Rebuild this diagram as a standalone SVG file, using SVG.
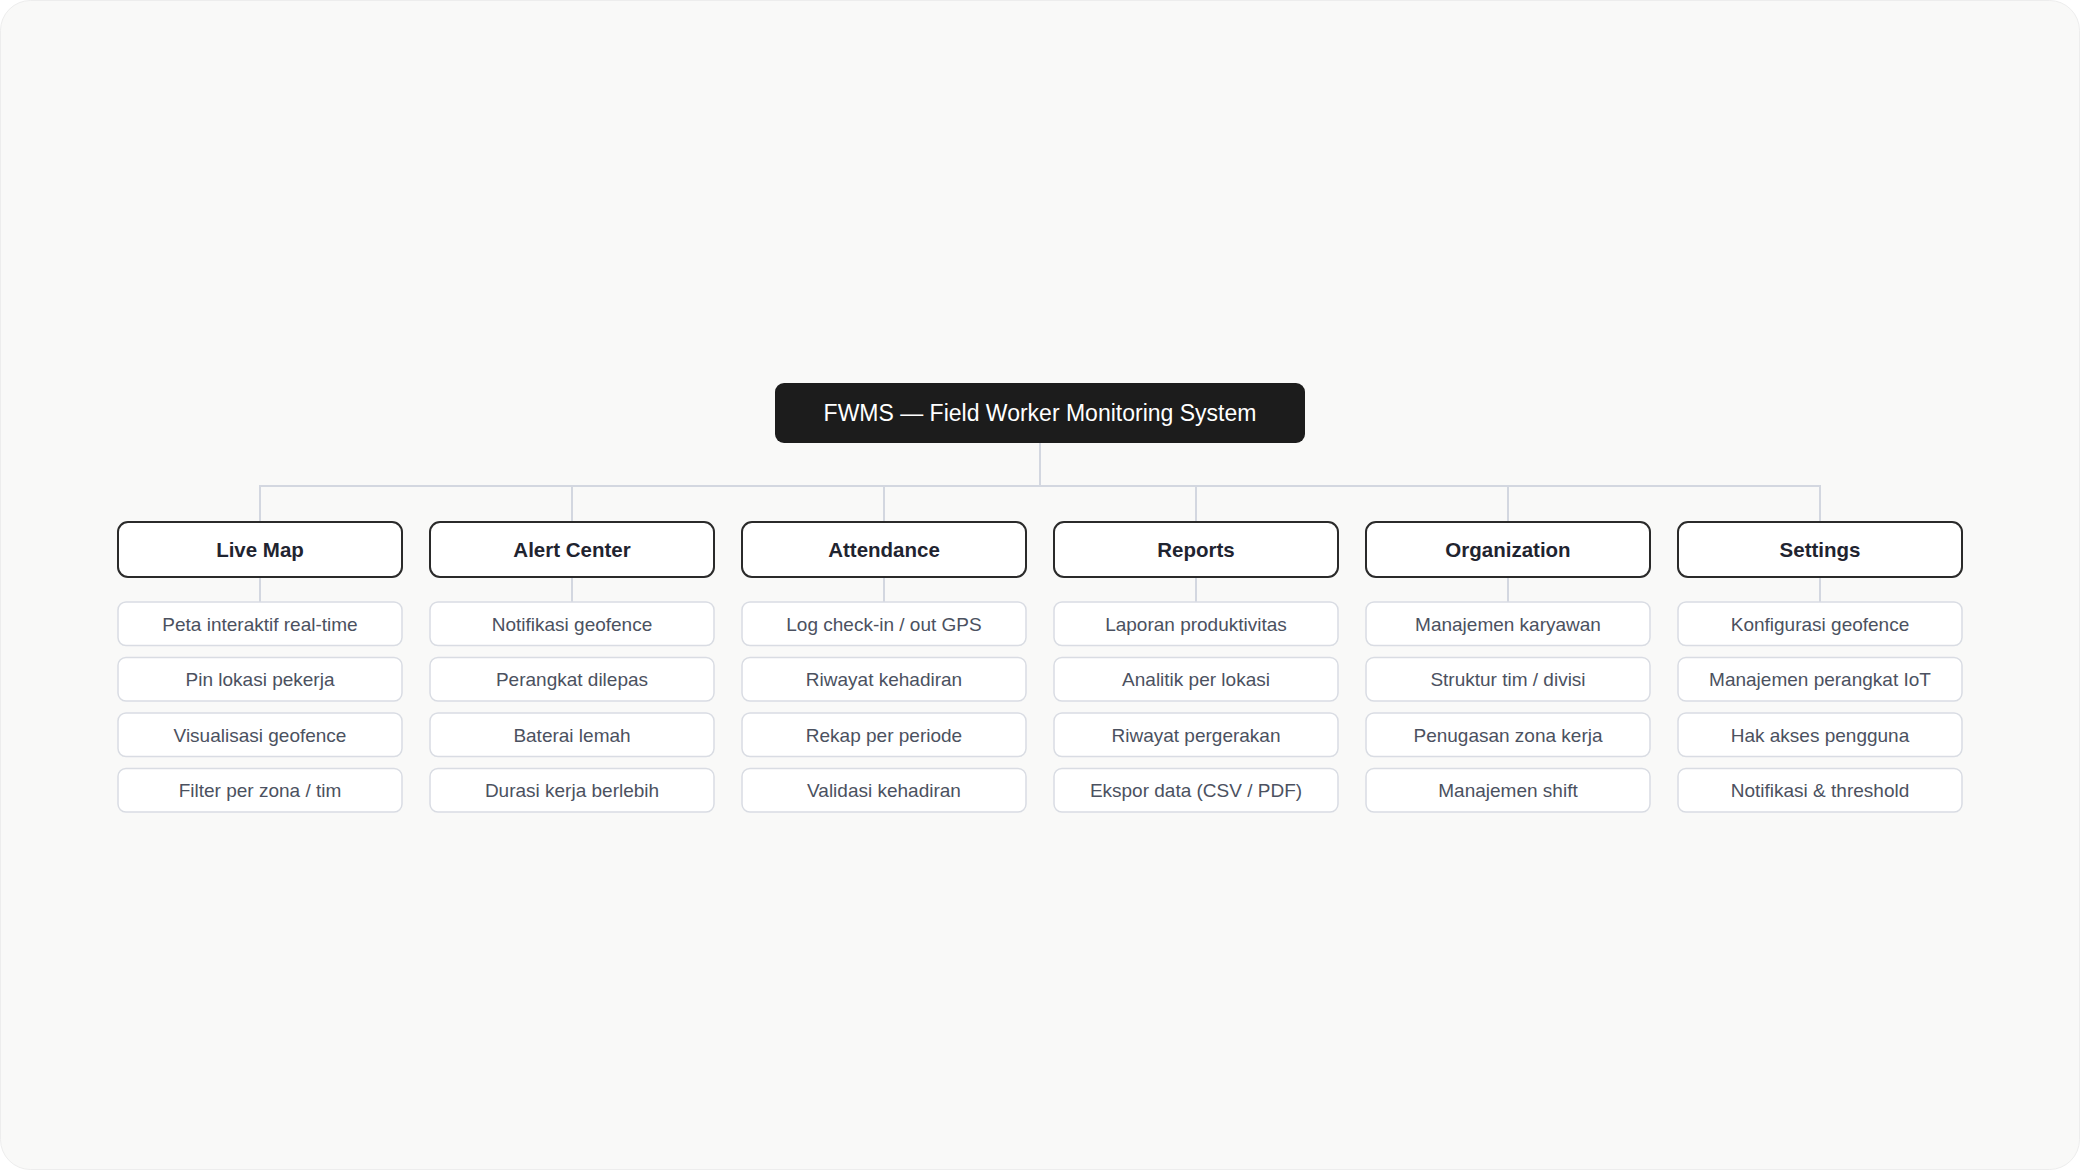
<svg xmlns="http://www.w3.org/2000/svg" width="2080" height="1170" viewBox="0 0 2080 1170">
<style>
.bg{fill:#f9f9f8;stroke:#ededed;stroke-width:1}
.root rect{fill:#1c1c1c}
.root text{fill:#ffffff;font-family:"Liberation Sans",Arial,sans-serif;font-size:23px;text-anchor:middle;dominant-baseline:central}
.cat rect{fill:#ffffff;stroke:#2a2a2a;stroke-width:2}
.cat text{fill:#1f2430;font-family:"Liberation Sans",Arial,sans-serif;font-size:20.5px;font-weight:bold;text-anchor:middle;dominant-baseline:central}
.item rect{fill:#ffffff;stroke:#d9dce3;stroke-width:1.5}
.item text{fill:#4b5160;font-family:"Liberation Sans",Arial,sans-serif;font-size:19px;text-anchor:middle;dominant-baseline:central}
.conn{fill:none;stroke:#d3d7e0;stroke-width:2}
</style>
<rect x="0" y="0" width="2080" height="1170" fill="#ffffff"/>
<rect class="bg" x="0.5" y="0.5" width="2079" height="1169" rx="30"/>
<g id="connectors" class="conn">
<path d="M1040 443 V486 M260 522 V486 H1820 V522 M572 486 V522 M884 486 V522 M1196 486 V522 M1508 486 V522"/>
<path d="M260 577 V602 M572 577 V602 M884 577 V602 M1196 577 V602 M1508 577 V602 M1820 577 V602"/>
</g>
<g id="root" class="root"><rect x="775" y="383" width="530" height="60" rx="9"/><text x="1040" y="413">FWMS — Field Worker Monitoring System</text></g>
<g id="cat-livemap" class="cat"><rect x="118" y="522" width="284" height="55" rx="10"/><text x="260" y="549.5">Live Map</text></g>
<g id="cat-alert" class="cat"><rect x="430" y="522" width="284" height="55" rx="10"/><text x="572" y="549.5">Alert Center</text></g>
<g id="cat-attendance" class="cat"><rect x="742" y="522" width="284" height="55" rx="10"/><text x="884" y="549.5">Attendance</text></g>
<g id="cat-reports" class="cat"><rect x="1054" y="522" width="284" height="55" rx="10"/><text x="1196" y="549.5">Reports</text></g>
<g id="cat-org" class="cat"><rect x="1366" y="522" width="284" height="55" rx="10"/><text x="1508" y="549.5">Organization</text></g>
<g id="cat-settings" class="cat"><rect x="1678" y="522" width="284" height="55" rx="10"/><text x="1820" y="549.5">Settings</text></g>

<g id="i-1-1" class="item"><rect x="118" y="602" width="284" height="43.5" rx="8"/><text x="260" y="624">Peta interaktif real-time</text></g>
<g id="i-1-2" class="item"><rect x="118" y="657.5" width="284" height="43.5" rx="8"/><text x="260" y="679.5">Pin lokasi pekerja</text></g>
<g id="i-1-3" class="item"><rect x="118" y="713" width="284" height="43.5" rx="8"/><text x="260" y="735">Visualisasi geofence</text></g>
<g id="i-1-4" class="item"><rect x="118" y="768.5" width="284" height="43.5" rx="8"/><text x="260" y="790.5">Filter per zona / tim</text></g>

<g id="i-2-1" class="item"><rect x="430" y="602" width="284" height="43.5" rx="8"/><text x="572" y="624">Notifikasi geofence</text></g>
<g id="i-2-2" class="item"><rect x="430" y="657.5" width="284" height="43.5" rx="8"/><text x="572" y="679.5">Perangkat dilepas</text></g>
<g id="i-2-3" class="item"><rect x="430" y="713" width="284" height="43.5" rx="8"/><text x="572" y="735">Baterai lemah</text></g>
<g id="i-2-4" class="item"><rect x="430" y="768.5" width="284" height="43.5" rx="8"/><text x="572" y="790.5">Durasi kerja berlebih</text></g>

<g id="i-3-1" class="item"><rect x="742" y="602" width="284" height="43.5" rx="8"/><text x="884" y="624">Log check-in / out GPS</text></g>
<g id="i-3-2" class="item"><rect x="742" y="657.5" width="284" height="43.5" rx="8"/><text x="884" y="679.5">Riwayat kehadiran</text></g>
<g id="i-3-3" class="item"><rect x="742" y="713" width="284" height="43.5" rx="8"/><text x="884" y="735">Rekap per periode</text></g>
<g id="i-3-4" class="item"><rect x="742" y="768.5" width="284" height="43.5" rx="8"/><text x="884" y="790.5">Validasi kehadiran</text></g>

<g id="i-4-1" class="item"><rect x="1054" y="602" width="284" height="43.5" rx="8"/><text x="1196" y="624">Laporan produktivitas</text></g>
<g id="i-4-2" class="item"><rect x="1054" y="657.5" width="284" height="43.5" rx="8"/><text x="1196" y="679.5">Analitik per lokasi</text></g>
<g id="i-4-3" class="item"><rect x="1054" y="713" width="284" height="43.5" rx="8"/><text x="1196" y="735">Riwayat pergerakan</text></g>
<g id="i-4-4" class="item"><rect x="1054" y="768.5" width="284" height="43.5" rx="8"/><text x="1196" y="790.5">Ekspor data (CSV / PDF)</text></g>

<g id="i-5-1" class="item"><rect x="1366" y="602" width="284" height="43.5" rx="8"/><text x="1508" y="624">Manajemen karyawan</text></g>
<g id="i-5-2" class="item"><rect x="1366" y="657.5" width="284" height="43.5" rx="8"/><text x="1508" y="679.5">Struktur tim / divisi</text></g>
<g id="i-5-3" class="item"><rect x="1366" y="713" width="284" height="43.5" rx="8"/><text x="1508" y="735">Penugasan zona kerja</text></g>
<g id="i-5-4" class="item"><rect x="1366" y="768.5" width="284" height="43.5" rx="8"/><text x="1508" y="790.5">Manajemen shift</text></g>

<g id="i-6-1" class="item"><rect x="1678" y="602" width="284" height="43.5" rx="8"/><text x="1820" y="624">Konfigurasi geofence</text></g>
<g id="i-6-2" class="item"><rect x="1678" y="657.5" width="284" height="43.5" rx="8"/><text x="1820" y="679.5">Manajemen perangkat IoT</text></g>
<g id="i-6-3" class="item"><rect x="1678" y="713" width="284" height="43.5" rx="8"/><text x="1820" y="735">Hak akses pengguna</text></g>
<g id="i-6-4" class="item"><rect x="1678" y="768.5" width="284" height="43.5" rx="8"/><text x="1820" y="790.5">Notifikasi &amp; threshold</text></g>
</svg>
